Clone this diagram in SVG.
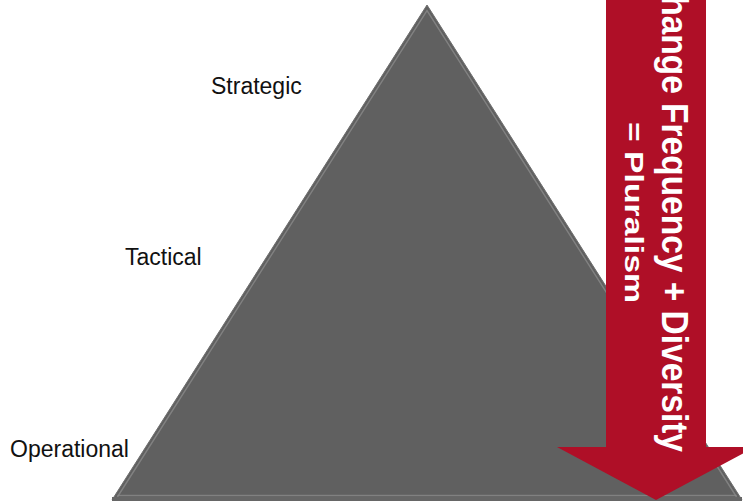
<svg xmlns="http://www.w3.org/2000/svg" width="743" height="501" viewBox="0 0 743 501">
  <style>
    .lbl { font-family: "Liberation Sans", Arial, sans-serif; font-size: 23px; fill: #111111; }
    .arrtxt { font-family: "Liberation Sans", Arial, sans-serif; font-weight: bold; fill: #ffffff; }
  </style>
  <rect x="0" y="0" width="743" height="501" fill="#ffffff"/>
  <g id="pyramid">
    <polygon points="427,5 112,500 742,500" fill="#606060" stroke="#6e6e6e" stroke-width="1"/>
    <polyline points="117.4,497 427,10.6 736.6,497" fill="none" stroke="#8a8a8a" stroke-width="1.4" stroke-opacity="0.8"/>
    <line x1="117.4" y1="495.5" x2="736.6" y2="495.5" stroke="#8a8a8a" stroke-width="1.4" stroke-opacity="0.8"/>
    <rect x="112" y="497" width="630" height="4" fill="#666666"/>
  </g>
  <g id="label-strategic">
    <text class="lbl" x="211" y="94">Strategic</text>
  </g>
  <g id="label-tactical">
    <text class="lbl" x="125" y="265">Tactical</text>
  </g>
  <g id="label-operational">
    <text class="lbl" x="10" y="457">Operational</text>
  </g>
  <g id="arrow">
    <polygon points="606,-5 706,-5 706,447 755,447 656,500 557,447 606,447" fill="#AF0F27"/>
    <text class="arrtxt" font-size="37" transform="translate(662,0) rotate(90)" x="-29" y="0" textLength="481" lengthAdjust="spacingAndGlyphs">Change Frequency + Diversity</text>
    <text class="arrtxt" font-size="26" transform="translate(625,0) rotate(90)" x="122" y="0" textLength="181" lengthAdjust="spacingAndGlyphs">= Pluralism</text>
  </g>
</svg>
